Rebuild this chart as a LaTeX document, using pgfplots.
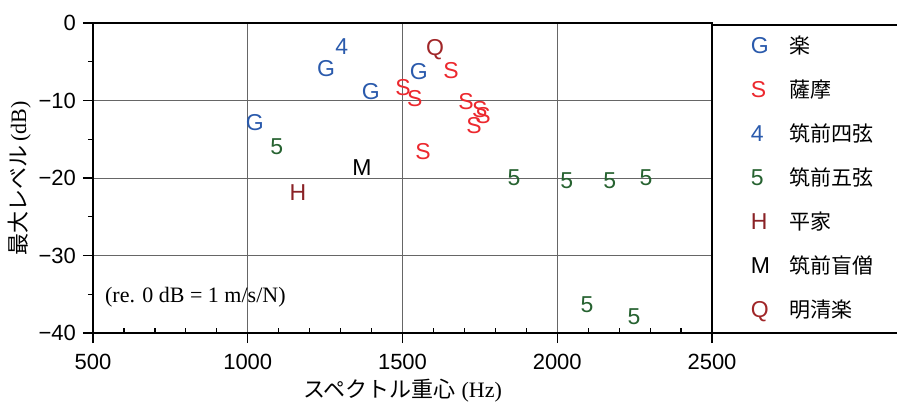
\documentclass[border=0pt]{standalone}
\usepackage{fontspec}
\usepackage{pgfplots}
\pgfplotsset{compat=1.18}
\setmainfont{Liberation Sans}
\newfontfamily\jp{Noto Sans CJK JP}
\newfontfamily\tnr{Liberation Serif}

\definecolor{gblue}{RGB}{42,90,172}
\definecolor{sred}{RGB}{236,40,46}
\definecolor{fgreen}{RGB}{38,98,48}
\definecolor{hred}{RGB}{138,34,38}
\definecolor{qred}{RGB}{160,38,40}

\newcommand{\mk}{\fontsize{11.5}{12}\selectfont}

\begin{document}
\begin{tikzpicture}
\useasboundingbox (0,0) rectangle (448.5pt,201.5pt);
\begin{axis}[
  at={(46.5pt,35pt)}, anchor=south west,
  scale only axis, width=309.5pt, height=155pt,
  xmin=500, xmax=2500, ymin=-40, ymax=0,
  xtick={500,1000,1500,2000,2500},
  xticklabels={500,1000,1500,2000,2500},
  ytick={-40,-30,-20,-10,0},
  yticklabels={−40,−30,−20,−10,0},
  minor x tick num=4, minor y tick num=1,
  xtick pos=bottom, ytick pos=left,
  tick align=outside,
  major tick length=5pt, minor tick length=2.5pt,
  minor x tick style={yshift=2.5pt},
  ticklabel style={font=\fontsize{11}{12}\selectfont},
  xticklabel style={yshift=-2pt},
  grid=major,
  major grid style={line width=0.5pt, black!60},
  axis line style={line width=0.8pt},
  every tick/.style={black, line width=0.6pt},
  xlabel={{\jp スペクトル重心}\ {\tnr (Hz)}},
  ylabel={{\jp 最大レベル}\,{\tnr (dB)}},
  label style={font=\fontsize{11}{12}\selectfont},
  xlabel style={yshift=2pt},
  ylabel style={yshift=-3pt},
  clip=false,
  legend image code/.code={%
    \path[draw=none, fill=none] (0pt,-11pt) rectangle (16.5pt,11pt);
    \draw[#1] plot coordinates {(8pt,0pt)};},
  legend style={draw=none, fill=none, inner sep=0pt, outer sep=0pt,
    at={(1.0371,0.974)}, anchor=north west,
    row sep=0pt, column sep=9.5pt,
    nodes={inner sep=0pt, text height=11pt, text depth=11pt,
      font=\jp\fontsize{10.5}{12}\selectfont}},
  legend cell align=left,
]
% 楽
\addplot[only marks, color=gblue, mark=text, text mark={G}, text mark as node=true,
  text mark style={font=\mk, text=gblue, inner sep=0pt}]
  coordinates {(1253,-5.9) (1398,-8.8) (1023,-12.9) (1553,-6.3)};
\addlegendentry{楽}
% 薩摩
\addplot[only marks, color=sred, mark=text, text mark={S}, text mark as node=true,
  text mark style={font=\mk, text=sred, inner sep=0pt}]
  coordinates {(1502,-8.3) (1540,-9.7) (1566,-16.6) (1657,-6.1) (1705,-10.2)
               (1750,-11.2) (1760,-11.9) (1731,-13.2)};
\addlegendentry{薩摩}
% 筑前四弦
\addplot[only marks, color=gblue, mark=text, text mark={4}, text mark as node=true,
  text mark style={font=\mk, text=gblue, inner sep=0pt}]
  coordinates {(1304,-3.1)};
\addlegendentry{筑前四弦}
% 筑前五弦
\addplot[only marks, color=fgreen, mark=text, text mark={5}, text mark as node=true,
  text mark style={font=\mk, text=fgreen, inner sep=0pt}]
  coordinates {(1094,-15.9) (1860,-20.0) (2031,-20.3) (2170,-20.3) (2287,-20.0)
               (2096,-36.4) (2248,-37.9)};
\addlegendentry{筑前五弦}
% 平家
\addplot[only marks, color=hred, mark=text, text mark={H}, text mark as node=true,
  text mark style={font=\mk, text=hred, inner sep=0pt}]
  coordinates {(1162,-21.9)};
\addlegendentry{平家}
% 筑前盲僧
\addplot[only marks, color=black, mark=text, text mark={M}, text mark as node=true,
  text mark style={font=\mk, text=black, inner sep=0pt}]
  coordinates {(1369,-18.7)};
\addlegendentry{筑前盲僧}
% 明清楽
\addplot[only marks, color=qred, mark=text, text mark={Q}, text mark as node=true,
  text mark style={font=\mk, text=qred, inner sep=0pt}]
  coordinates {(1605,-3.5)};
\addlegendentry{明清楽}

\node[anchor=west, inner sep=0pt, font=\tnr\fontsize{11}{12}\selectfont]
  at (axis cs:538,-35.4) {(re. 0 dB = 1 m/s/N)};
\end{axis}
% frame around the legend
\draw[line width=0.9pt] (356pt,35pt) rectangle (470pt,189pt);
\end{tikzpicture}
\end{document}
